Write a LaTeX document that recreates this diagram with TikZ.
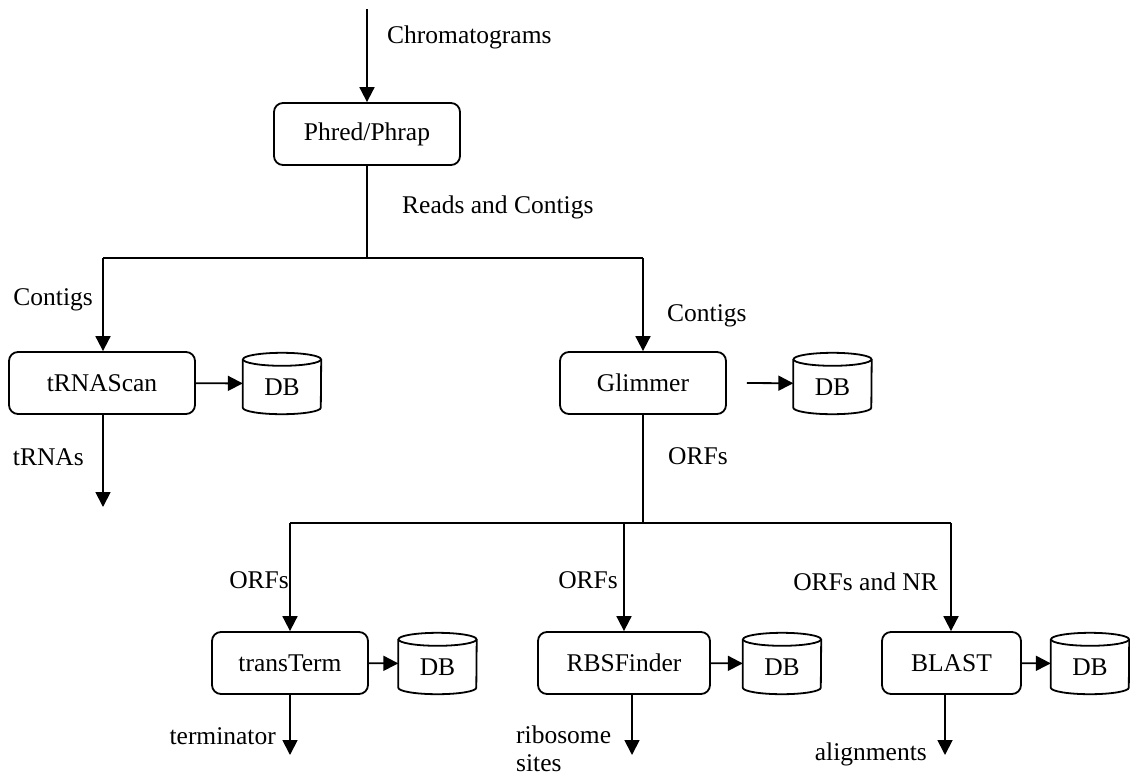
\documentclass[tikz,border=0pt]{standalone}
\usepackage{fontspec}
\setmainfont{Liberation Serif}
\usetikzlibrary{arrows.meta,calc}
\begin{document}
\begin{tikzpicture}[x=1pt,y=1pt,
  every node/.style={font=\fontsize{25.5}{28}\selectfont},
  proc/.style={draw,line width=1.8pt,rounded corners=9pt,minimum height=62pt,inner sep=0pt},
  dbnode/.style={minimum width=78pt,minimum height=61pt,inner sep=0pt},
  lbl/.style={inner sep=0pt},
  conn/.style={line width=1.8pt},
  arr/.style={line width=1.8pt,-{Triangle[length=15pt,width=15pt]}}]
\useasboundingbox (0,0) rectangle (1130,-777);

% processes
\node[proc,minimum width=186pt] (phred) at (367,-134) {Phred/Phrap};
\node[proc,minimum width=186pt] (trna) at (102,-383) {tRNAScan};
\node[proc,minimum width=166pt] (glim) at (643,-383) {Glimmer};
\node[proc,minimum width=156pt] (tterm) at (290,-663) {transTerm};
\node[proc,minimum width=172pt] (rbs) at (624,-663) {RBSFinder};
\node[proc,minimum width=139pt] (blast) at (951.5,-663) {BLAST};

% databases
\node[dbnode] (db1) at (282,-383.5) {};
\node[dbnode] (db2) at (832.5,-383.5) {};
\node[dbnode] (db3) at (437.5,-663.5) {};
\node[dbnode] (db4) at (782,-663.5) {};
\node[dbnode] (db5) at (1090,-663.5) {};
\foreach \n in {db1,db2,db3,db4,db5}{
  \draw[line width=1.8pt] ($(\n.north west)+(0,-6.5)$) -- ($(\n.south west)+(0,6.5)$)
    arc[start angle=180,end angle=360,x radius=39pt,y radius=6.5pt]
    -- ($(\n.north east)+(0,-6.5)$);
  \draw[line width=1.8pt] ($(\n.north)+(0,-6.5)$) ellipse[x radius=39pt,y radius=6.5pt];
  \node at ($(\n.center)+(0,-4)$) {DB};
}

% coordinates
\coordinate (ctop) at (367,-9);
\coordinate (split1) at (367,-258);
\coordinate (s1l) at (103,-258);
\coordinate (s1r) at (643,-258);
\coordinate (split2) at (643,-523);
\coordinate (s2l) at (290,-523);
\coordinate (s2m) at (624,-523);
\coordinate (s2r) at (951,-523);
\coordinate (trnaout) at (103,-507);
\coordinate (ttout) at (290,-755);
\coordinate (rbsout) at (632,-755);
\coordinate (blout) at (945,-755);

% connectors
\draw[arr] (ctop) -- (phred);
\draw[conn] (phred) -- (split1);
\draw[conn] (s1l) -- (s1r);
\draw[arr] (s1l) -- (trna.north -| s1l);
\draw[arr] (s1r) -- (glim);
\draw[arr] (trna) -- (db1);
\draw[arr] ($(glim.east)+(20,0)$) -- (db2);
\draw[arr] (trna.south -| trnaout) -- (trnaout);
\draw[conn] (glim) -- (split2);
\draw[conn] (s2l) -- (s2r);
\draw[arr] (s2l) -- (tterm);
\draw[arr] (s2m) -- (rbs);
\draw[arr] (s2r) -- (blast.north -| s2r);
\draw[arr] (tterm) -- (db3);
\draw[arr] (rbs) -- (db4);
\draw[arr] (blast) -- (db5);
\draw[arr] (tterm) -- (ttout);
\draw[arr] (rbs.south -| rbsout) -- (rbsout);
\draw[arr] (blast.south -| blout) -- (blout);

% labels
\node[lbl,anchor=west] (lchrom) at (387,-37) {Chromatograms};
\node[lbl,anchor=west] (lreads) at (402,-207) {Reads and Contigs};
\node[lbl,anchor=east] (lcont1) at (93,-300) {Contigs};
\node[lbl,anchor=west] (lcont2) at (667,-316) {Contigs};
\node[lbl,anchor=east] (ltrnas) at (84,-457) {tRNAs};
\node[lbl,anchor=west] (lorfs) at (668,-456) {ORFs};
\node[lbl,anchor=east] (lorfs1) at (289,-580) {ORFs};
\node[lbl,anchor=east] (lorfs2) at (618,-580) {ORFs};
\node[lbl,anchor=east] (lorfs3) at (938,-582) {ORFs and NR};
\node[lbl,anchor=east] (lterm) at (276,-736) {terminator};
\node[lbl,anchor=west,align=left] (lribo) at (516,-749) {ribosome\\sites};
\node[lbl,anchor=east] (lalign) at (927,-754) {alignments};
\end{tikzpicture}
\end{document}
